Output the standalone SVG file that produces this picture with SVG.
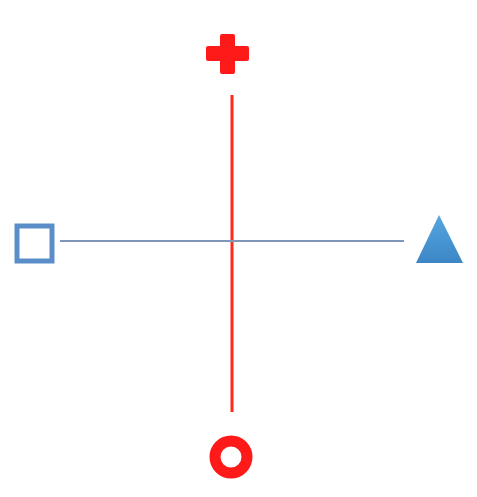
<svg xmlns="http://www.w3.org/2000/svg" width="477" height="497" viewBox="0 0 477 497">
  <style>
    .red { fill: #ff1a1a; }
    .redline { stroke: #ff2a1a; stroke-width: 3; fill: none; }
    .blueline { stroke: #8096b8; stroke-width: 2; fill: none; }
  </style>
  <defs>
    <linearGradient id="tri" x1="0" y1="0" x2="0" y2="1">
      <stop offset="0" stop-color="#55a6e0"/>
      <stop offset="1" stop-color="#3c86c6"/>
    </linearGradient>
  </defs>
  <rect width="477" height="497" fill="#ffffff"/>
  <g id="connectors">
    <line class="redline" x1="232" y1="95" x2="232" y2="412"/>
    <line class="blueline" x1="60" y1="241" x2="404" y2="241"/>
  </g>
  <g id="plus">
    <rect class="red" x="206" y="46" width="43" height="15" rx="2"/>
    <rect class="red" x="220" y="34" width="15" height="40" rx="2"/>
  </g>
  <g id="square">
    <rect x="17" y="226" width="35" height="35" fill="#ffffff" stroke="#5b8ec8" stroke-width="5"/>
  </g>
  <g id="triangle">
    <polygon points="439,215 416,263 463,263" fill="url(#tri)"/>
  </g>
  <g id="circle">
    <circle cx="231" cy="457" r="16" fill="none" stroke="#ff1a1a" stroke-width="11"/>
  </g>
</svg>
